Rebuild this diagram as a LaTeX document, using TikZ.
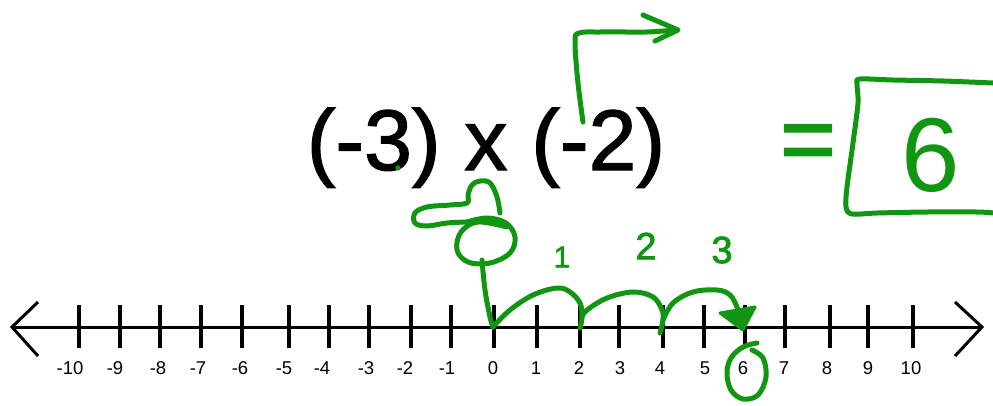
\documentclass[tikz,border=0pt]{standalone}
\usepackage{fontspec}
\setmainfont{Liberation Sans}
\newfontfamily\exprfont[FakeBold=1.5]{Liberation Sans}
\newfontfamily\handfont[FakeBold=2]{Liberation Sans}
\definecolor{pen}{RGB}{16,150,16}
\begin{document}
\begin{tikzpicture}[x=1pt,y=-1pt,
  penline/.style={draw=pen,line width=5pt,line cap=round,line join=round},
  tickline/.style={line width=4pt,black},
  lbl/.style={font=\fontsize{18.5}{20}\selectfont,inner sep=0pt},
  hand/.style={text=pen,inner sep=0pt}
 ]
\useasboundingbox[fill=white] (0,0) rectangle (993,405);
% number line
\draw[line width=3pt] (12,327) -- (982,327);
\draw[line width=3pt,line join=miter] (38,302) -- (12,327) -- (38,356);
\draw[line width=3pt,line join=miter] (955,302) -- (982,327) -- (955,356);
\foreach \v/\x/\l in {-10/79/70,-9/120/115,-8/160/158,-7/201/198,-6/242/240,-5/289/284,-4/329/322,-3/369/366,-2/411/405,-1/451/447,0/494/493,1/537/536,2/580/579,3/619/620,4/663/660,5/704/705,6/745/743,7/785/784,8/830/827,9/868/868,10/913/911}{
  \draw[tickline] (\x,305) -- (\x,348);
  \node[lbl] (lab\v) at (\l,368) {\v};
}
% expression
\node[font=\exprfont\fontsize{86}{90}\selectfont,anchor=base,inner sep=0pt] (expr) at (486,170) {(-3) x (-2)};
% green dot
\fill[pen] (398,168) circle (2.6pt);
% bent arrow
\draw[penline] plot[smooth,tension=0.6] coordinates {(583,122) (578,83) (575,42) (579,33) (600,32) (627,32) (647,32) (677,30)};
\draw[penline] (643,15) -- (678,30) -- (655,41);
% equals and box
\node[hand,font=\handfont\fontsize{95}{95}\selectfont] (eq) at (808,148) {=};
\draw[penline] plot[smooth,tension=0.5] coordinates {(993,83) (943,81) (893,80) (860,79) (857,84) (858,103) (853,143) (847,187) (846,207) (852,214) (877,213) (927,212) (977,212) (993,213)};
\node[hand,font=\fontsize{105}{105}\selectfont] (six) at (931,155) {6};
% hat scribble and zero circle
\draw[penline] plot[smooth,tension=0.6] coordinates {(500,213) (497,197) (490,183) (480,181) (472,185) (468,195) (467,203) (450,205) (427,207) (415,213) (415,223) (427,226) (447,223) (467,222)};
\draw[penline] plot[smooth,tension=0.6] coordinates {(467,222) (487,218) (506,223) (515,237) (510,253) (490,263) (468,262) (457,250) (461,232) (478,222) (507,227)};
% jumps
\draw[penline] plot[smooth,tension=0.6] coordinates {(482,260) (485,290) (490,317) (493,327)};
\draw[penline] plot[smooth,tension=0.6] coordinates {(493,327) (510,310) (533,295) (557,288) (570,292) (580,303) (582,317) (580,328)};
\draw[penline] plot[smooth,tension=0.6] coordinates {(582,317) (587,310) (607,298) (633,292) (653,297) (662,310) (663,320) (660,333)};
\draw[penline] plot[smooth,tension=0.6] coordinates {(663,320) (673,303) (693,292) (717,290) (730,295) (737,307) (740,317)};
\filldraw[pen,line width=3pt,line join=round] (720,313) -- (755,307) -- (743,330) -- cycle;
\node[hand,font=\handfont\fontsize{30}{30}\selectfont] (c1) at (562,257) {1};
\node[hand,font=\handfont\fontsize{38}{38}\selectfont] (c2) at (646,246) {2};
\node[hand,font=\handfont\fontsize{38}{38}\selectfont] (c3) at (722,250) {3};
% circle around 6
\draw[penline] plot[smooth,tension=0.6] coordinates {(757,343) (743,347) (731,358) (727,373) (731,390) (743,399) (758,395) (766,377) (763,358) (752,350)};
\end{tikzpicture}
\end{document}
